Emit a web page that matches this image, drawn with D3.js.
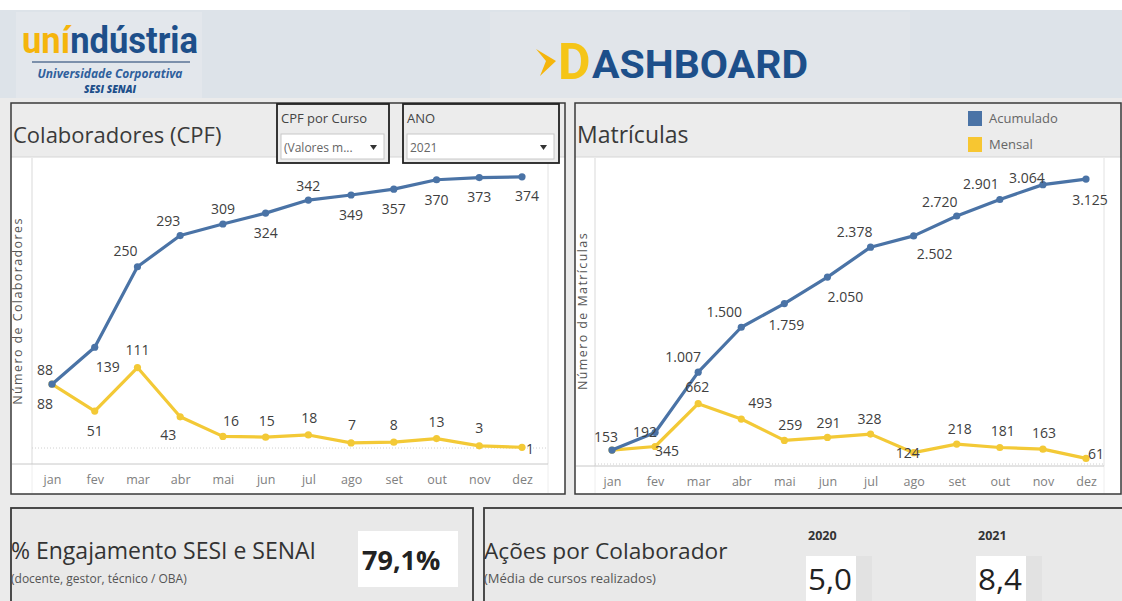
<!DOCTYPE html>
<html><head><meta charset="utf-8">
<script src="https://cdn.jsdelivr.net/npm/d3@7"></script>
<style>
html,body{margin:0;padding:0;background:#fff;}
svg{display:block;font-family:"Open Sans","Noto Sans",sans-serif;}
</style></head>
<body>
<svg id="c" width="1122" height="601"></svg>
<script>
// ---------- DATA ----------
const months = ["jan","fev","mar","abr","mai","jun","jul","ago","set","out","nov","dez"];
const colabAcumulado = [88,139,250,293,309,324,342,349,357,370,373,374];
const colabMensal    = [88,51,111,43,16,15,18,7,8,13,3,1];
const matAcumulado   = [153,345,1007,1500,1759,2050,2378,2502,2720,2901,3064,3125];
const matMensal      = [153,192,662,493,259,291,328,124,218,181,163,61];
const legendLabels   = ["Acumulado","Mensal"];
const engajamento    = 0.791;
const acoesAnos      = ["2020","2021"];
const acoesValores   = [5.0, 8.4];
const anoSelecionado = "2021";

// label offsets (dx, dy) per point — layout, not data
const offColabAc = [[-7,-15],[13,19],[-12,-16],[-12,-15],[0,-15],[0,19],[0,-15],[0,20],[0,19],[0,20],[0,19],[5,19]];
const offColabMe = [[-7,19],[0,19],[0,-18],[-12,18],[8,-16],[1,-17],[1,-17],[1,-18],[0,-18],[0,-17],[0,-18],[8,1]];
const offMatAc   = [null,[12,18],[-15,-16],[-17,-16],[2,21],[18,19],[-16,-16],[21,18],[-17,-15],[-19,-16],[-16,-7],[4,20]];
const offMatMe   = [[-6,-14],[-10,-15],[-1,-17],[19,-17],[6,-16],[1,-15],[-1,-16],[-6,0],[3,-16],[3,-17],[1,-17],[10,-5]];

const BLUE = "#4a73a6", YELLOW = "#f3c936";
const loc = d3.formatLocale({decimal:",", thousands:".", grouping:[3], currency:["R$",""]});
const fmtInt = loc.format(",d");
const fmt1 = loc.format(".1f");

const svg = d3.select("#c");

// ---------- BACKGROUNDS ----------
svg.append("rect").attr("x",0).attr("y",0).attr("width",1122).attr("height",601).attr("fill","#ebebeb");
svg.append("rect").attr("x",0).attr("y",0).attr("width",1122).attr("height",10).attr("fill","#ffffff");
svg.append("rect").attr("x",0).attr("y",10).attr("width",1122).attr("height",88).attr("fill","#dde3e9");
svg.append("rect").attr("x",16).attr("y",12).attr("width",186).attr("height",86).attr("fill","#e3e7ec");
svg.append("rect").attr("x",490).attr("y",12).attr("width",420).attr("height",86).attr("fill","#e1e5ea");

// ---------- LOGO ----------
const logo = svg.append("text").attr("x",22).attr("y",53)
  .attr("font-family","Roboto, 'Open Sans', sans-serif").attr("font-weight",700).attr("font-size",36)
  .attr("textLength",176).attr("lengthAdjust","spacingAndGlyphs");
logo.append("tspan").attr("fill","#f5b50c").text("uní");
logo.append("tspan").attr("fill","#1d4f8a").text("ndústria");
svg.append("line").attr("x1",32).attr("x2",190).attr("y1",62).attr("y2",62).attr("stroke","#5a7396").attr("stroke-width",1.5);
svg.append("text").attr("x",110).attr("y",78).attr("text-anchor","middle")
  .attr("font-family","'Open Sans',sans-serif").attr("font-style","italic").attr("font-weight",700)
  .attr("font-size",12).attr("fill","#2f5f9c").text("Universidade Corporativa");
svg.append("text").attr("x",110).attr("y",93).attr("text-anchor","middle")
  .attr("font-family","'Open Sans',sans-serif").attr("font-style","italic").attr("font-weight",800)
  .attr("font-size",10).attr("fill","#1d4f8a").text("SESI SENAI");

// ---------- DASHBOARD TITLE ----------
svg.append("path").attr("d","M536,49 L556,61 L540,76 L546,61 Z").attr("fill","#f5b50c");
svg.append("text").attr("x",558).attr("y",79)
  .attr("font-family","Roboto,sans-serif").attr("font-weight",700).attr("font-size",50)
  .attr("fill","#f5c518").text("D");
svg.append("text").attr("x",592).attr("y",78)
  .attr("font-family","Roboto,sans-serif").attr("font-weight",700).attr("font-size",38)
  .attr("fill","#1d4f8a").attr("textLength",216).attr("lengthAdjust","spacingAndGlyphs").text("ASHBOARD");

// ---------- PANEL FUNCTION ----------
function panel(cfg){
  const g = svg.append("g");
  g.append("rect").attr("x",cfg.x0).attr("y",103).attr("width",cfg.x1-cfg.x0).attr("height",391)
    .attr("fill","#ffffff");
  g.append("rect").attr("x",cfg.x0).attr("y",103).attr("width",cfg.x1-cfg.x0).attr("height",54)
    .attr("fill","#ececec");
  g.append("line").attr("x1",cfg.x0).attr("x2",cfg.x1).attr("y1",157).attr("y2",157).attr("stroke","#d6d6d6");
  g.append("rect").attr("x",cfg.x0).attr("y",103).attr("width",cfg.x1-cfg.x0).attr("height",391)
    .attr("fill","none").attr("stroke","#3a3a3a").attr("stroke-width",1.5);

  g.append("text").attr("x",cfg.x0+2).attr("y",143).attr("font-size",cfg.tsize).attr("fill","#3a3a3a").text(cfg.title);

  const x = d3.scalePoint().domain(months).range(cfg.xr);
  const y = d3.scaleLinear().domain(cfg.yd).range(cfg.yr);

  g.append("line").attr("x1",cfg.pl).attr("x2",cfg.pl).attr("y1",158).attr("y2",cfg.axisY).attr("stroke","#d9d9d9");
  g.append("line").attr("x1",cfg.pr).attr("x2",cfg.pr).attr("y1",158).attr("y2",cfg.axisY).attr("stroke","#e2e2e2");
  g.append("line").attr("x1",cfg.pr).attr("x2",cfg.pr).attr("y1",cfg.axisY).attr("y2",493).attr("stroke","#eeeeee");
  g.append("line").attr("x1",cfg.pl).attr("x2",cfg.pl).attr("y1",cfg.axisY).attr("y2",493).attr("stroke","#eeeeee");
  g.append("line").attr("x1",cfg.pl).attr("x2",cfg.pr).attr("y1",y(0)).attr("y2",y(0))
    .attr("stroke","#d0d0d0").attr("stroke-dasharray","1,2");

  const ax = g.append("g").attr("transform",`translate(0,${cfg.axisY})`)
    .call(d3.axisBottom(x).tickSize(0).tickPadding(11));
  ax.select(".domain").attr("stroke","#c8c8c8").attr("d",`M${cfg.x0+1},0H${cfg.pr}`);
  ax.selectAll("text").attr("font-size",12.5).attr("fill","#808080").attr("font-family","'Open Sans',sans-serif");

  g.append("text").attr("transform",`translate(${cfg.ytx},${cfg.yty}) rotate(-90)`)
    .attr("text-anchor","middle").attr("font-size",12.5).attr("letter-spacing",1.4)
    .attr("fill","#555").text(cfg.ytitle);

  const line = d3.line().x((d,i)=>x(months[i])).y(d=>y(d));
  [[cfg.mensal,YELLOW],[cfg.acum,BLUE]].forEach(([vals,col])=>{
    g.append("path").datum(vals).attr("d",line).attr("fill","none").attr("stroke",col)
      .attr("stroke-width",3.2).attr("stroke-linejoin","round");
    g.selectAll(null).data(vals).enter().append("circle")
      .attr("cx",(d,i)=>x(months[i])).attr("cy",d=>y(d)).attr("r",3.6).attr("fill",col);
  });
  [[cfg.mensal,cfg.offMe],[cfg.acum,cfg.offAc]].forEach(([vals,off])=>{
    const pts = vals.map((v,i)=>({v, m:months[i], o:off[i]})).filter(p=>p.o);
    g.selectAll(null).data(pts).enter().append("text")
      .attr("x",p=>x(p.m)+p.o[0]).attr("y",p=>y(p.v)+p.o[1])
      .attr("text-anchor","middle").attr("dominant-baseline","central")
      .attr("font-size",14).attr("fill","#404040").text(p=>fmtInt(p.v));
  });
  return g;
}

panel({x0:11,x1:565,title:"Colaboradores (CPF)",tsize:22,xr:[52,522],yd:[0,400],yr:[448,158],
  pl:32,pr:548,axisY:464,ytx:22,yty:311,ytitle:"Número de Colaboradores",
  acum:colabAcumulado,mensal:colabMensal,offAc:offColabAc,offMe:offColabMe});
panel({x0:575,x1:1121,title:"Matrículas",tsize:23,xr:[612,1086],yd:[0,3400],yr:[464,154],
  pl:595,pr:1104,axisY:466,ytx:587,yty:311,ytitle:"Número de Matrículas",
  acum:matAcumulado,mensal:matMensal,offAc:offMatAc,offMe:offMatMe});

// ---------- FILTERS ----------
function filterBox(x,w,label,val){
  svg.append("rect").attr("x",x).attr("y",104).attr("width",w).attr("height",59)
    .attr("fill","#ececec").attr("stroke","#222").attr("stroke-width",1.8);
  svg.append("text").attr("x",x+4).attr("y",123).attr("font-size",13).attr("fill","#444").text(label);
  svg.append("rect").attr("x",x+4).attr("y",134).attr("width",w-9).attr("height",25)
    .attr("fill","#fff").attr("stroke","#c8c8c8");
  svg.append("text").attr("x",x+7).attr("y",152).attr("font-size",12).attr("fill","#666").text(val);
  svg.append("path").attr("d",`M${x+w-19},145 h7 l-3.5,5 z`).attr("fill","#333");
}
filterBox(277,112,"CPF por Curso","(Valores m...");
filterBox(403,156,"ANO",anoSelecionado);

// ---------- LEGEND ----------
legendLabels.forEach((l,i)=>{
  svg.append("rect").attr("x",968).attr("y",111+i*26).attr("width",14).attr("height",15)
    .attr("fill",[BLUE,"#f7c631"][i]);
  svg.append("text").attr("x",989).attr("y",123+i*26).attr("font-size",13).attr("fill","#666").text(l);
});

// ---------- BOTTOM CARDS ----------
svg.append("rect").attr("x",11).attr("y",508).attr("width",462).attr("height",100)
  .attr("fill","#e9e9e9").attr("stroke","#3a3a3a").attr("stroke-width",1.8);
svg.append("text").attr("x",11).attr("y",559).attr("font-size",23).attr("fill","#333").text("% Engajamento SESI e SENAI");
svg.append("text").attr("x",11).attr("y",583).attr("font-size",12).attr("fill","#555").text("(docente, gestor, técnico / OBA)");
svg.append("rect").attr("x",358).attr("y",531).attr("width",100).attr("height",56).attr("fill","#ffffff");
svg.append("text").attr("x",362).attr("y",570).attr("font-size",27).attr("font-weight",700)
  .attr("fill","#222").text(fmt1(engajamento*100)+"%");

svg.append("rect").attr("x",484).attr("y",508).attr("width",645).attr("height",100)
  .attr("fill","#e9e9e9").attr("stroke","#3a3a3a").attr("stroke-width",1.8);
svg.append("text").attr("x",484).attr("y",559).attr("font-size",22.7).attr("fill","#333").text("Ações por Colaborador");
svg.append("text").attr("x",484).attr("y",583).attr("font-size",13).attr("fill","#555").text("(Média de cursos realizados)");
const ax2 = [806, 976];
acoesAnos.forEach((a,i)=>{
  svg.append("text").attr("x",ax2[i]+2).attr("y",540).attr("font-size",12.5).attr("font-weight",700).attr("fill","#333").text(a);
  svg.append("rect").attr("x",ax2[i]+46).attr("y",556).attr("width",20).attr("height",45).attr("fill","#e2e2e2");
  svg.append("rect").attr("x",ax2[i]).attr("y",556).attr("width",50).attr("height",45).attr("fill","#ffffff");
  svg.append("text").attr("x",ax2[i]+2).attr("y",590).attr("font-size",30)
    .attr("textLength",44).attr("lengthAdjust","spacingAndGlyphs").attr("fill","#222").text(fmt1(acoesValores[i]));
});
</script>
</body></html>
